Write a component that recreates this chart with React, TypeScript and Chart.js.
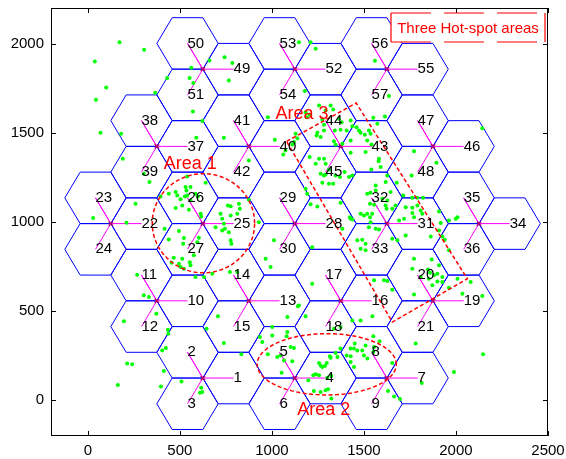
import React, { useEffect, useRef } from 'react';
import { Chart, registerables } from 'chart.js';

Chart.register(...registerables);

// ---------- data ----------
const xTickValues = [0, 500, 1000, 1500, 2000, 2500];
const yTickValues = [0, 500, 1000, 1500, 2000];

const siteX = [625, 1125, 1625, 375, 875, 1375, 1875, 125, 625, 1125, 1625, 2125, 375, 875, 1375, 1875, 625, 1125, 1625];
const siteY = [125, 125, 125, 558, 558, 558, 558, 991, 991, 991, 991, 991, 1424, 1424, 1424, 1424, 1857, 1857, 1857];
const sectorAngles = [0, 120, 240];
const cellRadius = 500 / 3;

const area1DotX = [304, 335, 540, 531, 536, 558, 477, 486, 440, 395, 504, 527, 540, 585, 598, 513, 477, 549, 558, 613, 616, 495, 417, 440, 522, 518, 603, 595, 576, 513, 467, 455, 495, 504, 522, 558, 554, 585, 631, 676, 772, 721, 730, 761, 776, 821, 826, 739, 730, 766, 776, 780, 694, 776, 812, 745, 640, 929, 875, 966, 812];
const area1DotY = [1271, 1224, 1255, 1196, 1177, 1196, 1168, 1149, 1159, 1143, 1127, 1143, 1149, 1159, 1143, 1093, 1078, 1069, 1121, 1046, 1031, 949, 962, 902, 910, 878, 912, 887, 813, 794, 800, 772, 766, 747, 738, 757, 775, 691, 691, 710, 719, 1046, 1018, 1093, 1089, 1103, 1075, 990, 953, 943, 897, 878, 971, 1037, 1046, 962, 1220, 999, 1125, 794, 719];

const area2DotX = [935, 948, 1002, 1002, 1084, 1080, 978, 1029, 1047, 1102, 1120, 1066, 1111, 1053, 1337, 1373, 1428, 1446, 1464, 1406, 1428, 1346, 1319, 1315, 1356, 1509, 1491, 1500, 1519, 1428, 1446, 1256, 1265, 1274, 1288, 1238, 1256, 1225, 1301, 1228, 1265, 1292, 1323, 1198, 1298, 1373, 1450, 1551, 1555, 1585, 1305, 1323, 1437];
const area2DotY = [355, 327, 411, 364, 383, 359, 258, 243, 252, 299, 293, 224, 219, 155, 402, 411, 290, 290, 280, 252, 247, 265, 239, 247, 243, 308, 280, 252, 234, 215, 187, 209, 196, 187, 192, 146, 140, 140, 127, 52, 47, 56, 10, 112, 209, 290, 318, 359, 299, 332, 62, 136, 448];

const area3DotX = [1256, 1319, 1333, 1183, 1189, 1205, 1292, 1274, 1283, 1364, 1379, 1247, 1243, 1265, 1283, 1342, 1373, 1406, 1428, 1437, 1460, 1473, 1482, 1505, 1527, 1536, 1573, 1518, 1541, 1428, 1337, 1346, 1383, 1129, 1138, 1120, 1111, 1074, 1205, 1238, 1256, 1283, 1292, 1265, 1283, 1292, 1310, 1274, 1310, 1333, 1346, 1370, 1419, 1437, 1395, 1428, 1540, 1591, 1582, 1183, 1192, 1210, 1373, 1518, 1536, 1533, 1555, 1600, 1627, 1618, 1623, 1545, 1518, 1533, 1482, 1500, 1424, 1437, 1383, 1536, 1527, 1645, 1672, 1654, 1564, 1582, 1551, 1614, 1772, 1580, 1627, 1618, 1678, 1564, 1564, 1759, 1894, 1714, 1763, 1790, 1821, 1727, 1763, 1790, 1808, 1817, 1763, 1772, 1908, 1718, 1691, 1917, 1962, 2008, 1999, 1863, 1926, 1939, 1908, 1962, 1654, 1682, 1727, 1772, 1868, 1763, 1848, 1859, 1881, 1899, 1908, 1808, 1853, 1872, 1899, 1926, 1926, 1962, 2008, 2080, 1772, 2035, 2143, 1609, 1627, 1654, 1555, 1464, 1491, 1509, 1482, 1509, 1428, 1509];
const area3DotY = [1653, 1653, 1631, 1616, 1588, 1601, 1625, 1575, 1545, 1579, 1560, 1500, 1485, 1476, 1513, 1513, 1517, 1513, 1569, 1537, 1532, 1513, 1500, 1489, 1513, 1495, 1551, 1457, 1435, 1457, 1453, 1433, 1439, 1495, 1470, 1448, 1435, 1401, 1364, 1327, 1355, 1355, 1327, 1271, 1261, 1267, 1295, 1220, 1215, 1215, 1261, 1252, 1252, 1261, 1280, 1388, 1295, 1308, 1355, 1187, 1159, 1099, 1108, 1159, 1164, 1103, 1097, 1131, 1121, 1093, 1075, 1046, 1046, 1027, 1046, 1037, 1027, 1014, 962, 999, 971, 1168, 1093, 1075, 962, 958, 1585, 1592, 1397, 1340, 1261, 1224, 1220, 1205, 1177, 1261, 1332, 1149, 1136, 1136, 1136, 1083, 1080, 1093, 1065, 1046, 1050, 1027, 1059, 1018, 1009, 994, 1009, 1027, 1018, 919, 919, 901, 953, 841, 906, 897, 925, 794, 790, 738, 733, 716, 701, 710, 757, 691, 682, 645, 667, 691, 663, 632, 682, 663, 594, 598, 585, 673, 669, 620, 673, 897, 901, 878, 850, 841, 1018, 1392];

const otherDotX = [172, 306, 38, 100, 44, 431, 366, 562, 553, 573, 571, 589, 69, 181, 190, 661, 743, 785, 766, 622, 739, 978, 1016, 1062, 1147, 1210, 1238, 1179, 1560, 1636, 2143, 259, 29, 210, 268, 304, 332, 875, 1247, 1011, 993, 1219, 1219, 1147, 372, 196, 435, 437, 404, 424, 214, 241, 413, 163, 397, 509, 609, 707, 645, 739, 834, 616, 622, 1084, 1141, 1183, 1482, 1546, 1551, 1654, 1781, 2147, 1989, 1814, 1631, 1696, 1664];
const otherDotY = [2008, 1966, 1900, 1754, 1685, 1807, 1725, 1865, 1807, 1779, 1620, 1472, 1500, 1495, 1355, 1906, 1924, 1891, 1794, 1566, 1472, 1588, 1461, 1379, 2008, 2008, 1971, 1734, 1904, 1706, 1526, 1103, 1022, 996, 704, 589, 579, 1345, 1087, 897, 747, 859, 654, 532, 486, 443, 396, 374, 280, 293, 206, 202, 164, 86, 77, 106, 43, 471, 402, 321, 258, 71, 47, 467, 527, 471, 448, 471, 271, 209, 318, 258, 159, 97, 52, 7, 22];

const area1Center = [628, 993];
const area1Radius = 278;
const area2Center = [1298, 202];
const area2Radii = [378, 172];
const area3CornerX = [1080, 1458, 2062, 1654];
const area3CornerY = [1452, 1667, 682, 439];

const areaLabels = ['Area 1', 'Area 2', 'Area 3'];
const areaLabelX = [413, 1138, 1020];
const areaLabelY = [1327, -52, 1607];
const legendText = 'Three Hot-spot areas';

// ---------- derived geometry ----------
const sectorX: number[] = [];
const sectorY: number[] = [];
const sectorLabel: string[] = [];
siteX.forEach((sx, i) => {
  sectorAngles.forEach((a, j) => {
    const t = (a * Math.PI) / 180;
    sectorX.push(sx + cellRadius * Math.cos(t));
    sectorY.push(siteY[i] + cellRadius * Math.sin(t));
    sectorLabel.push(String(3 * i + j + 1));
  });
});

const FONT = '"Liberation Sans", Arial, Helvetica, sans-serif';

function zip(xs: number[], ys: number[]) {
  return xs.map((x, i) => ({ x, y: ys[i] }));
}

function buildDatasets() {
  const ds: any[] = [];
  const red = '#ff0000';
  const circ = [];
  for (let k = 0; k <= 120; k++) {
    const t = (k / 120) * 2 * Math.PI;
    circ.push({ x: area1Center[0] + area1Radius * Math.cos(t), y: area1Center[1] + area1Radius * Math.sin(t) });
  }
  const ell = [];
  for (let k = 0; k <= 120; k++) {
    const t = (k / 120) * 2 * Math.PI;
    ell.push({ x: area2Center[0] + area2Radii[0] * Math.cos(t), y: area2Center[1] + area2Radii[1] * Math.sin(t) });
  }
  const rect = zip(area3CornerX.concat([area3CornerX[0]]), area3CornerY.concat([area3CornerY[0]]));
  [circ, ell, rect].forEach((d) => {
    ds.push({
      data: d, showLine: true, borderColor: red, borderWidth: 1.5, borderDash: [4, 2.5],
      pointRadius: 0, fill: false, order: 1,
    });
  });
  [[area1DotX, area1DotY], [area2DotX, area2DotY], [area3DotX, area3DotY], [otherDotX, otherDotY]].forEach(([xs, ys]) => {
    ds.push({
      data: zip(xs, ys), showLine: false, pointRadius: 2, pointBorderWidth: 0,
      pointBackgroundColor: '#00ff00', pointBorderColor: '#00ff00', order: 2,
    });
  });
  ds.push({
    data: zip(siteX, siteY), showLine: false, pointStyle: 'crossRot', pointRadius: 3,
    pointBorderColor: '#b0006a', pointBorderWidth: 1.5, order: 3,
  });
  siteX.forEach((sx, i) => {
    const sy = siteY[i];
    const d = [
      { x: sectorX[3 * i], y: sectorY[3 * i] }, { x: sx, y: sy },
      { x: sectorX[3 * i + 1], y: sectorY[3 * i + 1] }, { x: sx, y: sy },
      { x: sectorX[3 * i + 2], y: sectorY[3 * i + 2] },
    ];
    ds.push({ data: d, showLine: true, borderColor: '#ff00ff', borderWidth: 1, pointRadius: 0, fill: false, order: 4 });
  });
  sectorX.forEach((cx, k) => {
    const cy = sectorY[k];
    const d = [0, 1, 2, 3, 4, 5, 6].map((v) => ({
      x: cx + cellRadius * Math.cos((v * Math.PI) / 3),
      y: cy + cellRadius * Math.sin((v * Math.PI) / 3),
    }));
    ds.push({ data: d, showLine: true, borderColor: '#0000ff', borderWidth: 1, pointRadius: 0, fill: false, order: 5 });
  });
  return ds;
}

const overlayPlugin = {
  id: 'overlay',
  afterDatasetsDraw(chart: any) {
    const { ctx, chartArea: a, scales } = chart;
    const xs = scales.x;
    const ys = scales.y;
    ctx.save();
    ctx.fillStyle = '#000';
    ctx.font = `15px ${FONT}`;
    ctx.textAlign = 'left';
    ctx.textBaseline = 'middle';
    sectorLabel.forEach((lab, k) => {
      ctx.fillText(lab, xs.getPixelForValue(sectorX[k]), ys.getPixelForValue(sectorY[k]));
    });
    ctx.fillStyle = '#ff0000';
    ctx.font = `18px ${FONT}`;
    areaLabels.forEach((lab, k) => {
      ctx.fillText(lab, xs.getPixelForValue(areaLabelX[k]), ys.getPixelForValue(areaLabelY[k]));
    });
    ctx.strokeStyle = '#000';
    ctx.lineWidth = 1;
    ctx.setLineDash([]);
    ctx.strokeRect(a.left + 0.5, a.top + 0.5, a.right - a.left - 1, a.bottom - a.top - 1);
    const tl = 5;
    ctx.beginPath();
    xTickValues.forEach((v) => {
      const p = Math.round(xs.getPixelForValue(v)) + 0.5;
      ctx.moveTo(p, a.bottom); ctx.lineTo(p, a.bottom - tl);
      ctx.moveTo(p, a.top); ctx.lineTo(p, a.top + tl);
    });
    yTickValues.forEach((v) => {
      const p = Math.round(ys.getPixelForValue(v)) + 0.5;
      ctx.moveTo(a.left, p); ctx.lineTo(a.left + tl, p);
      ctx.moveTo(a.right, p); ctx.lineTo(a.right - tl, p);
    });
    ctx.stroke();
    const bx0 = a.right - 157;
    const bx1 = a.right - 3;
    const by0 = a.top + 5;
    const by1 = a.top + 34;
    ctx.fillStyle = '#ffffff';
    ctx.fillRect(bx0, by0, bx1 - bx0, by1 - by0);
    ctx.strokeStyle = '#ff0000';
    ctx.lineWidth = 1.2;
    ctx.setLineDash([40, 13]);
    ctx.beginPath();
    ctx.moveTo(bx0, by0); ctx.lineTo(bx1, by0);
    ctx.moveTo(bx0, by1); ctx.lineTo(bx1, by1);
    ctx.moveTo(bx0, by0); ctx.lineTo(bx0, by1);
    ctx.moveTo(bx1, by0); ctx.lineTo(bx1, by1);
    ctx.stroke();
    ctx.setLineDash([]);
    ctx.fillStyle = '#ff0000';
    ctx.font = `15px ${FONT}`;
    ctx.textAlign = 'center';
    ctx.textBaseline = 'middle';
    ctx.fillText(legendText, (bx0 + bx1) / 2, (by0 + by1) / 2 + 1);
    ctx.restore();
  },
};

export default function App() {
  const ref = useRef<HTMLCanvasElement | null>(null);
  useEffect(() => {
    if (!ref.current) return;
    const chart = new Chart(ref.current, {
      type: 'scatter',
      data: { datasets: buildDatasets() },
      options: {
        responsive: false,
        animation: false,
        devicePixelRatio: 1,
        events: [],
        layout: { padding: { left: 0, right: 18, top: 8, bottom: 0 } },
        plugins: { legend: { display: false }, tooltip: { enabled: false } },
        scales: {
          x: {
            type: 'linear', min: -200, max: 2500,
            afterBuildTicks: (s: any) => { s.ticks = xTickValues.map((v) => ({ value: v })); },
            afterFit: (s: any) => { s.height = 23; s.paddingLeft = 0; s.paddingRight = 0; },
            grid: { display: false, drawTicks: false },
            border: { display: false },
            ticks: { padding: 6, color: '#000', font: { family: FONT, size: 15 }, maxRotation: 0, callback: (v: any) => String(v) },
          },
          y: {
            type: 'linear', min: -200, max: 2200,
            afterBuildTicks: (s: any) => { s.ticks = yTickValues.map((v) => ({ value: v })); },
            afterFit: (s: any) => { s.width = 51; s.paddingTop = 0; s.paddingBottom = 0; },
            grid: { display: false, drawTicks: false },
            border: { display: false },
            ticks: { padding: 7, color: '#000', font: { family: FONT, size: 15 }, callback: (v: any) => String(v) },
          },
        },
      },
      plugins: [overlayPlugin],
    } as any);
    return () => chart.destroy();
  }, []);
  return (
    <div style={{ position: 'absolute', left: 0, top: 0, width: 566, height: 459 }}>
      <canvas ref={ref} width={566} height={459} style={{ display: 'block', width: 566, height: 459 }} />
    </div>
  );
}
